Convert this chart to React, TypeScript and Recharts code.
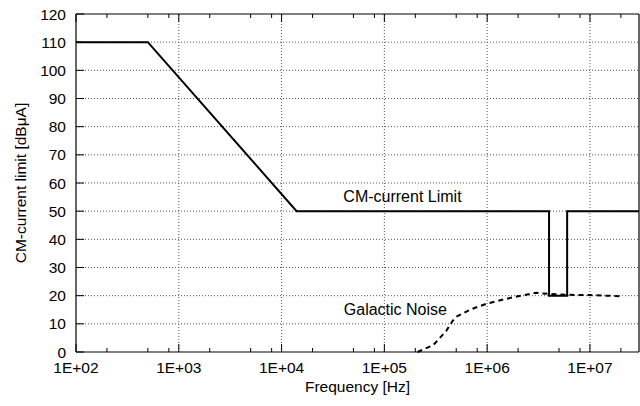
import { LineChart, Line, XAxis, YAxis, ReferenceLine, ReferenceDot } from 'recharts';

// common-mode current limit (solid) and galactic noise floor (dashed)
const limitFreq = [100, 500, 14000, 4e6, 4e6, 6e6, 6e6, 3e7];
const limitLevel = [110, 110, 50, 50, 20, 20, 50, 50];

const noiseFreq = [2.1e5, 3e5, 4e5, 4.6e5, 5e5, 7e5, 1e6, 1.5e6, 2e6, 3e6, 4e6, 6e6, 1e7, 2e7];
const noiseLevel = [0, 2.5, 7.5, 11, 12.5, 15.2, 17.2, 18.8, 19.8, 21, 20.6, 20.3, 20.2, 19.8];

const decades = [1e2, 1e3, 1e4, 1e5, 1e6, 1e7];
const decadeLabels = ['1E+02', '1E+03', '1E+04', '1E+05', '1E+06', '1E+07'];
const minorFreq = [2e2, 5e2, 8e2, 2e3, 5e3, 8e3, 2e4, 5e4, 8e4, 2e5, 5e5, 8e5, 2e6, 5e6, 8e6, 2e7];
const levelTicks = [0, 10, 20, 30, 40, 50, 60, 70, 80, 90, 100, 110, 120];
const gridLevels = [10, 20, 30, 40, 50, 60, 70, 80, 90, 100, 110];

const limitData = limitFreq.map((f, i) => ({ f, v: limitLevel[i] }));
const noiseData = noiseFreq.map((f, i) => ({ f, v: noiseLevel[i] }));
const freqTicks = [...decades, ...minorFreq].sort((a, b) => a - b);

const FONT = '"Liberation Sans", Arial, Helvetica, sans-serif';

function decadeIndex(v: number) {
  return decades.findIndex((d) => Math.abs(d - v) / d < 1e-6);
}

function FreqTick(props: any) {
  const { x, y, payload, top } = props;
  const i = decadeIndex(payload.value);
  const len = i >= 0 ? 8 : 4;
  const dir = top ? 1 : -1;
  return (
    <g>
      <line x1={x} x2={x} y1={y} y2={y + dir * len} stroke="#000" strokeWidth={1} />
      {!top && i >= 0 && (
        <text x={x} y={y + 21} textAnchor="middle" fontSize={15.5} fontFamily={FONT} fill="#000">
          {decadeLabels[i]}
        </text>
      )}
    </g>
  );
}

function LevelTick(props: any) {
  const { x, y, payload, right } = props;
  const dir = right ? -1 : 1;
  return (
    <g>
      <line x1={x} x2={x + dir * 8} y1={y} y2={y} stroke="#000" strokeWidth={1} />
      {!right && (
        <text x={x - 10} y={y} dy="0.36em" textAnchor="end" fontSize={15.5} fontFamily={FONT} fill="#000">
          {payload.value}
        </text>
      )}
    </g>
  );
}

export default function App() {
  return (
    <div style={{ position: 'absolute', left: 0, top: 0, background: '#fff' }}>
      <LineChart width={640} height={406} margin={{ top: 0, right: 0, bottom: 0, left: 0 }}>
        <XAxis
          dataKey="f"
          type="number"
          scale="log"
          domain={[100, 3e7]}
          allowDataOverflow
          ticks={freqTicks}
          interval={0}
          tickSize={0}
          tickMargin={0}
          tick={<FreqTick />}
          height={54}
          axisLine={{ stroke: '#000', strokeWidth: 1.2 }}
          label={{ value: 'Frequency [Hz]', position: 'insideBottom', offset: 14, fill: '#000', fontSize: 15.5, fontFamily: FONT }}
        />
        <XAxis
          xAxisId="top"
          orientation="top"
          dataKey="f"
          type="number"
          scale="log"
          domain={[100, 3e7]}
          allowDataOverflow
          ticks={freqTicks}
          interval={0}
          tickSize={0}
          tickMargin={0}
          tick={<FreqTick top />}
          height={14}
          axisLine={{ stroke: '#000', strokeWidth: 1.2 }}
        />
        <YAxis
          type="number"
          domain={[0, 120]}
          ticks={levelTicks}
          interval={0}
          tickSize={0}
          tickMargin={0}
          tick={<LevelTick />}
          width={76}
          axisLine={{ stroke: '#000', strokeWidth: 1.2 }}
          label={{
            value: 'CM-current limit [dBμA]',
            angle: -90,
            position: 'insideLeft',
            offset: 20,
            fill: '#000',
            fontSize: 15.5,
            fontFamily: FONT,
            style: { textAnchor: 'middle' },
          }}
        />
        <YAxis
          yAxisId="right"
          orientation="right"
          type="number"
          domain={[0, 120]}
          ticks={levelTicks}
          interval={0}
          tickSize={0}
          tickMargin={0}
          tick={<LevelTick right />}
          width={1}
          axisLine={{ stroke: '#000', strokeWidth: 1.2 }}
        />

        {decades.slice(1).map((d) => (
          <ReferenceLine key={`vx${d}`} x={d} stroke="#555" strokeDasharray="1 2" strokeWidth={1} />
        ))}
        {gridLevels.map((l) => (
          <ReferenceLine key={`hy${l}`} y={l} stroke="#555" strokeDasharray="1 2" strokeWidth={1} />
        ))}

        <Line
          data={limitData}
          dataKey="v"
          type="linear"
          stroke="#000"
          strokeWidth={2}
          dot={false}
          activeDot={false}
          isAnimationActive={false}
        />
        <Line
          data={noiseData}
          dataKey="v"
          type="linear"
          stroke="#000"
          strokeWidth={2}
          strokeDasharray="5 4"
          dot={false}
          activeDot={false}
          isAnimationActive={false}
        />

        <ReferenceDot
          x={1.5e5}
          y={55.4}
          r={0}
          fill="none"
          stroke="none"
          label={{ value: 'CM-current Limit', position: 'center', fill: '#000', fontSize: 16, fontFamily: FONT }}
        />
        <ReferenceDot
          x={1.28e5}
          y={15.3}
          r={0}
          fill="none"
          stroke="none"
          label={{ value: 'Galactic Noise', position: 'center', fill: '#000', fontSize: 16, fontFamily: FONT }}
        />
      </LineChart>
    </div>
  );
}
